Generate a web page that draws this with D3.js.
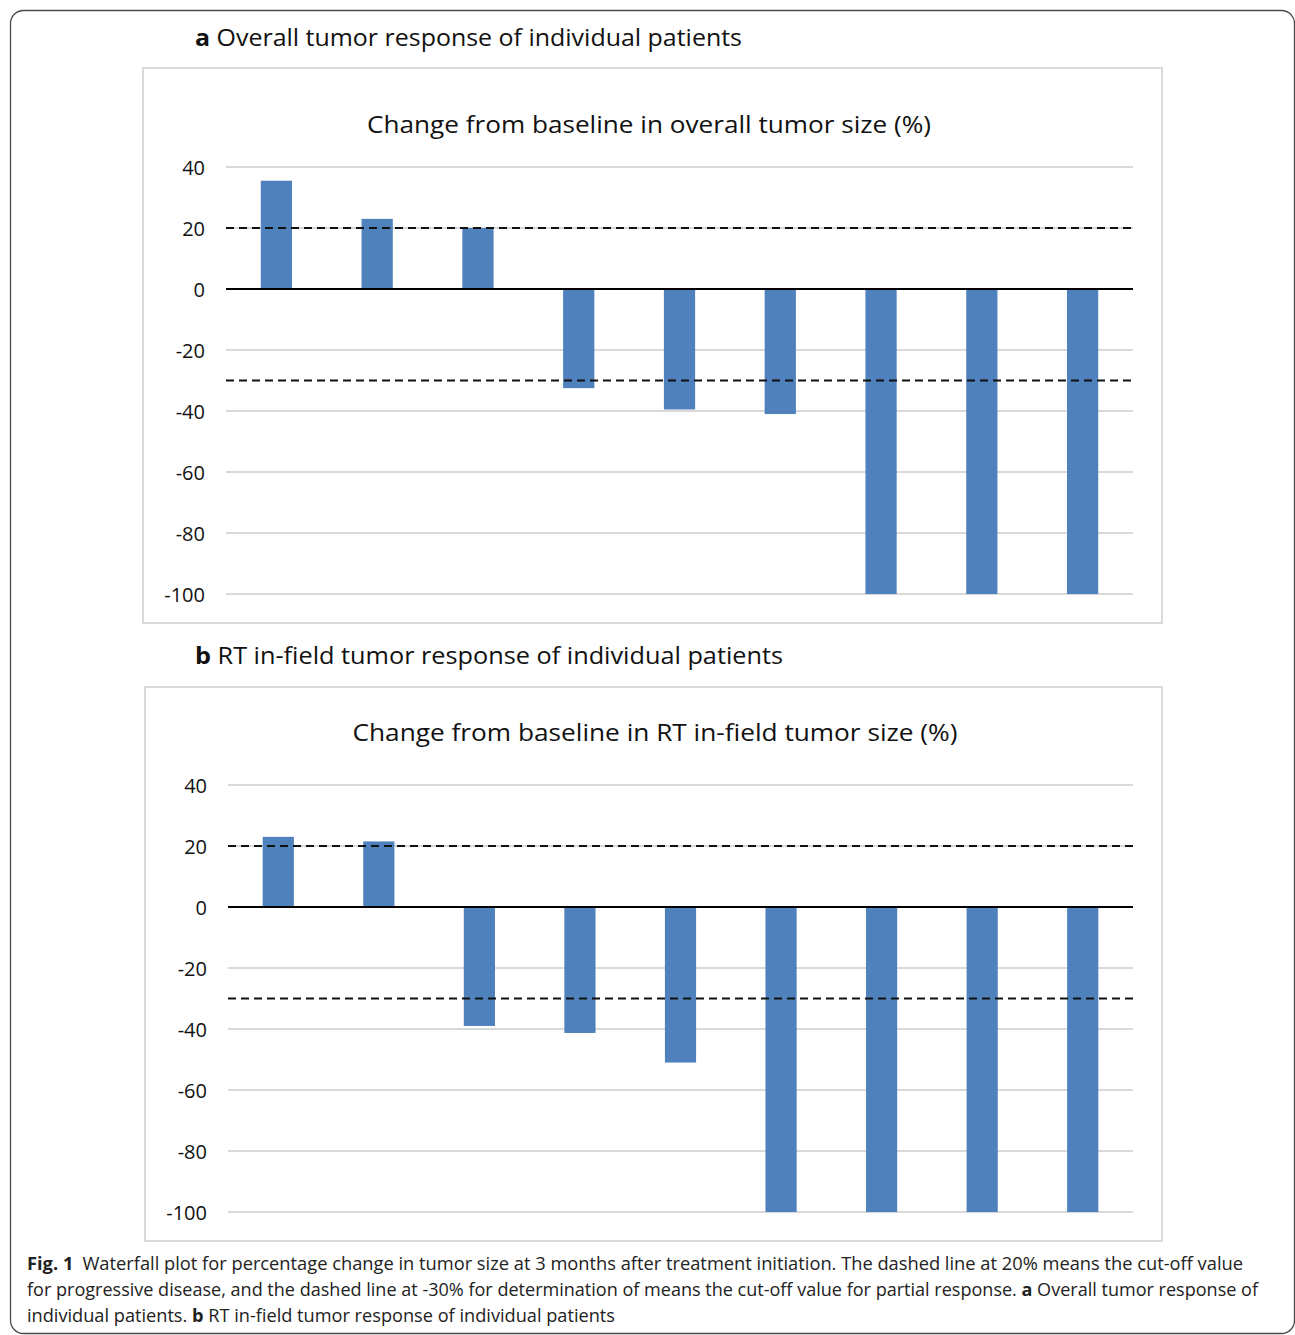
<!DOCTYPE html>
<html>
<head>
<meta charset="utf-8">
<script src="https://cdn.jsdelivr.net/npm/d3@7"></script>
<style>
    body { margin: 0; background: #fff; }
    svg { display: block; }
</style>
</head>
<body>
<svg id="chart"></svg>
<script>
// data
const patients = ["1", "2", "3", "4", "5", "6", "7", "8", "9"];
const overallChange = [35.5, 23, 20, -32.5, -39.5, -41, -100, -100, -100];
const infieldChange = [23, 21.5, -39, -41.3, -51, -100, -100, -100, -100];
const yTicks = [40, 20, 0, -20, -40, -60, -80, -100];
const cutoffs = [20, -30];

const barColor = "#4f81bd";
const gridColor = "#d9d9d9";

var width = 1295;
var height = 1335;

var svg = d3.select("#chart")
    .attr("width", width)
    .attr("height", height);

// outer rounded frame
svg.append("rect")
    .attr("x", 10.5)
    .attr("y", 10.5)
    .attr("width", 1284)
    .attr("height", 1323)
    .attr("rx", 13)
    .attr("fill", "none")
    .attr("stroke", "#4a4a4a")
    .attr("stroke-width", 1.3);

function drawPanel(cfg) {
    // panel heading (bold letter + text)
    var head = svg.append("text")
        .attr("x", 195)
        .attr("y", cfg.headY)
        .attr("font-family", "'Open Sans', sans-serif")
        .attr("font-size", "23px")
        .attr("fill", "#111")
        .attr("textLength", cfg.headLen)
        .attr("lengthAdjust", "spacingAndGlyphs");
    head.append("tspan").attr("font-weight", "bold").text(cfg.letter);
    head.append("tspan").text(" " + cfg.heading);

    // light grey chart box
    svg.append("rect")
        .attr("x", cfg.box[0])
        .attr("y", cfg.box[1])
        .attr("width", cfg.box[2])
        .attr("height", cfg.box[3])
        .attr("fill", "#fff")
        .attr("stroke", gridColor)
        .attr("stroke-width", 2);

    svg.append("text")
        .attr("x", cfg.titleX)
        .attr("y", cfg.titleY)
        .attr("text-anchor", "middle")
        .attr("font-family", "'Open Sans', sans-serif")
        .attr("font-size", "23px")
        .attr("fill", "#111")
        .attr("textLength", cfg.titleLen)
        .attr("lengthAdjust", "spacingAndGlyphs")
        .text(cfg.title);

    const x = d3.scaleBand()
        .domain(patients)
        .range([cfg.left, cfg.right])
        .paddingInner(0.69)
        .paddingOuter(0.345);

    const y = d3.scaleLinear()
        .domain([-100, 40])
        .range([cfg.bottom, cfg.top]);

    const g = svg.append("g");

    // horizontal gridlines
    g.append("g")
        .selectAll("line")
        .data(yTicks.filter(d => d !== 0))
        .enter()
        .append("line")
        .attr("x1", cfg.left)
        .attr("x2", cfg.right)
        .attr("y1", d => y(d))
        .attr("y2", d => y(d))
        .attr("stroke", gridColor)
        .attr("stroke-width", 2);

    // y axis labels, no domain line or ticks (plain hyphen for negatives, like Excel)
    const axis = g.append("g")
        .attr("transform", "translate(" + (cfg.left - 21) + ",0)")
        .call(d3.axisLeft(y).tickValues(yTicks).tickSize(0).tickPadding(0).tickFormat(d => String(d)));
    axis.select(".domain").remove();
    axis.selectAll("text")
        .attr("font-family", "'Open Sans', sans-serif")
        .attr("font-size", "20px")
        .attr("fill", "#111")
        .attr("dy", "0.35em");

    // bars
    g.append("g")
        .selectAll("rect")
        .data(cfg.values)
        .enter()
        .append("rect")
        .attr("x", (d, i) => x(patients[i]))
        .attr("width", x.bandwidth())
        .attr("y", d => y(Math.max(0, d)))
        .attr("height", d => Math.abs(y(d) - y(0)))
        .attr("fill", barColor);

    // zero line
    g.append("line")
        .attr("x1", cfg.left)
        .attr("x2", cfg.right)
        .attr("y1", y(0))
        .attr("y2", y(0))
        .attr("stroke", "#000")
        .attr("stroke-width", 2);

    // dashed cut-off lines
    g.append("g")
        .selectAll("line")
        .data(cutoffs)
        .enter()
        .append("line")
        .attr("x1", cfg.left)
        .attr("x2", cfg.right + 3)
        .attr("y1", d => y(d))
        .attr("y2", d => y(d))
        .attr("stroke", "#111")
        .attr("stroke-width", 2)
        .attr("stroke-dasharray", "8,5");
}

drawPanel({
    letter: "a", heading: "Overall tumor response of individual patients",
    headY: 46, headLen: 547,
    box: [143, 68, 1019, 555],
    title: "Change from baseline in overall tumor size (%)",
    titleX: 649, titleY: 133, titleLen: 564,
    left: 226, right: 1133, top: 167, bottom: 594,
    values: overallChange
});

drawPanel({
    letter: "b", heading: "RT in-field tumor response of individual patients",
    headY: 664, headLen: 588,
    box: [145, 687, 1017, 554],
    title: "Change from baseline in RT in-field tumor size (%)",
    titleX: 655, titleY: 741, titleLen: 605,
    left: 228, right: 1133, top: 785, bottom: 1212,
    values: infieldChange
});

// figure caption
const capFont = "'Open Sans', sans-serif";
var cap1 = svg.append("text")
    .attr("x", 27).attr("y", 1270)
    .attr("font-family", capFont).attr("font-size", "18px").attr("fill", "#222")
    .attr("textLength", 1216).attr("lengthAdjust", "spacingAndGlyphs");
cap1.append("tspan").attr("font-weight", "bold").text("Fig. 1");
cap1.append("tspan").text("\u2002Waterfall plot for percentage change in tumor size at 3 months after treatment initiation. The dashed line at 20% means the cut-off value");

var cap2 = svg.append("text")
    .attr("x", 27).attr("y", 1296)
    .attr("font-family", capFont).attr("font-size", "18px").attr("fill", "#222")
    .attr("textLength", 1231).attr("lengthAdjust", "spacingAndGlyphs");
cap2.append("tspan").text("for progressive disease, and the dashed line at -30% for determination of means the cut-off value for partial response. ");
cap2.append("tspan").attr("font-weight", "bold").text("a");
cap2.append("tspan").text(" Overall tumor response of");

var cap3 = svg.append("text")
    .attr("x", 27).attr("y", 1322)
    .attr("font-family", capFont).attr("font-size", "18px").attr("fill", "#222")
    .attr("textLength", 588).attr("lengthAdjust", "spacingAndGlyphs");
cap3.append("tspan").text("individual patients. ");
cap3.append("tspan").attr("font-weight", "bold").text("b");
cap3.append("tspan").text(" RT in-field tumor response of individual patients");
</script>
</body>
</html>
